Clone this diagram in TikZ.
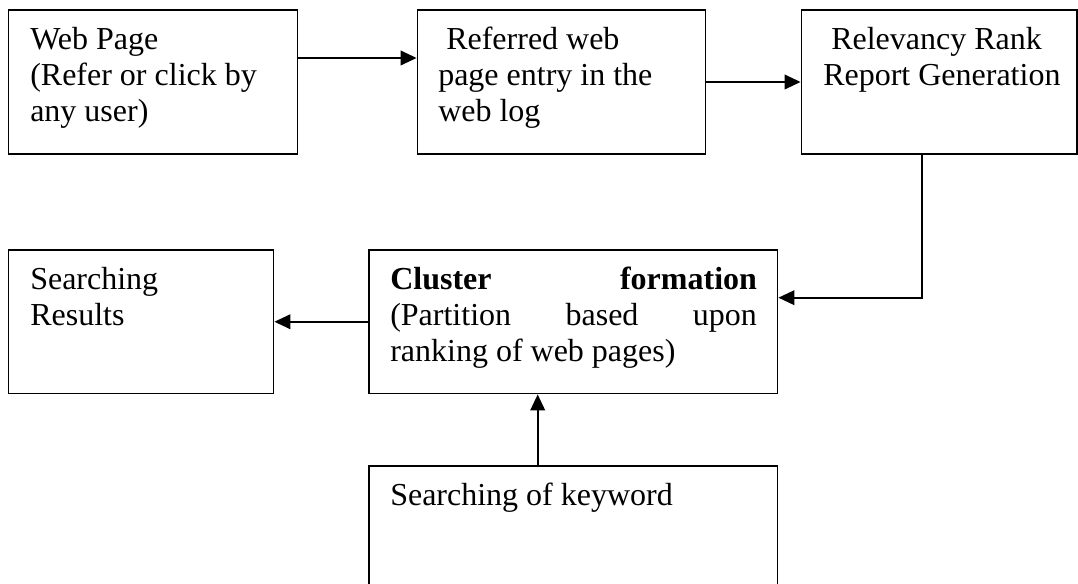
\documentclass[tikz,border=0pt]{standalone}
\usepackage{fontspec}
\setmainfont{Liberation Serif}
\usetikzlibrary{arrows.meta,fit}
\begin{document}
\begin{tikzpicture}[x=0.75pt,y=-0.75pt,
  box/.style={draw,line width=1.4pt,inner sep=0pt},
  txt/.style={anchor=base west,inner sep=0pt,align=flush left,text width=280pt,
    font=\fontsize{24}{27}\selectfont},
  arr/.style={line width=1.3pt,-{Triangle[length=12pt,width=11pt]}}]
\useasboundingbox (0,0) rectangle (1078,584);
\clip (0,0) rectangle (1078,584);
% boxes
\node[box,fit={(8.5,10) (297.5,154)}] (b1) {};
\node[box,fit={(417.5,10) (705.5,154)}] (b2) {};
\node[box,fit={(801.5,10) (1077,154)}] (b3) {};
\node[box,fit={(8.5,250) (273.5,393.5)}] (b4) {};
\node[box,fit={(369,250) (777.5,393.5)}] (b5) {};
\node[box,fit={(369,466) (777.5,620)}] (b6) {};
% texts
\node[txt] (t1) at (30,50) {Web Page\\(Refer or click by\\any user)};
\node[txt] (t2) at (438,50) {\hspace*{6pt}Referred web\\page entry in the\\web log};
\node[txt] (t3) at (823,50) {\hspace*{6pt}Relevancy Rank\\Report Generation};
\node[txt] (t4) at (30,289.3) {Searching\\Results};
\node[txt] (t5) at (390,290) {\makebox[275pt][l]{\textbf{Cluster}\hfill\textbf{formation}}\\\makebox[275pt][l]{(Partition\hfill based\hfill upon}\\ranking of web pages)};
\node[txt] (t6) at (390,505) {Searching of keyword};
% helper coordinates
\coordinate (y1) at (0,58);
\coordinate (x3) at (922,0);
\coordinate (y3) at (0,297.7);
\coordinate (x6) at (537.7,0);
% connectors
\draw[arr] (b1.east |- y1) -- (b2.west |- y1);
\draw[arr] (b2.east) -- (b3.west);
\draw[arr] (b3.south -| x3) |- (b5.east |- y3);
\draw[arr] (b5.west) -- (b4.east);
\draw[arr] (b6.north -| x6) -- (b5.south -| x6);
\end{tikzpicture}
\end{document}
